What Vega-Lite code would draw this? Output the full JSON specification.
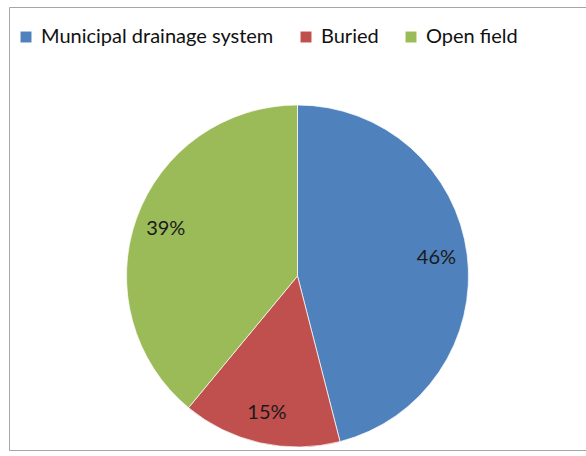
{
  "$schema": "https://vega.github.io/schema/vega-lite/v6.json",
  "width": 577,
  "height": 443,
  "autosize": {"type": "none"},
  "padding": {"left": 9, "top": 7, "right": 0, "bottom": 6},
  "background": "white",
  "view": {"stroke": "#a6a6a6", "strokeWidth": 1, "fill": "white"},
  "config": {"font": "Lato"},
  "data": {
    "values": [
      {"method": "Municipal drainage system", "share": 46, "label": "46%", "rank": 1},
      {"method": "Buried", "share": 15, "label": "15%", "rank": 2},
      {"method": "Open field", "share": 39, "label": "39%", "rank": 3}
    ]
  },
  "encoding": {
    "theta": {"field": "share", "type": "quantitative", "stack": true},
    "order": {"field": "rank", "type": "ordinal"}
  },
  "layer": [
    {
      "mark": {
        "type": "arc",
        "outerRadius": 171,
        "y": {"expr": "height / 2 + 47.5"},
        "stroke": "#ffffff",
        "strokeWidth": 0.7
      },
      "encoding": {
        "color": {
          "field": "method",
          "type": "nominal",
          "scale": {
            "domain": ["Municipal drainage system", "Buried", "Open field"],
            "range": ["#4f81bd", "#c0504d", "#9bbb59"]
          },
          "legend": {
            "title": null,
            "orient": "none",
            "direction": "horizontal",
            "legendX": 7,
            "legendY": 20,
            "symbolType": "square",
            "symbolSize": 120,
            "symbolStrokeWidth": 0,
            "labelFontSize": 20,
            "labelFont": "Lato",
            "labelColor": "#111111",
            "labelLimit": 400,
            "labelOffset": 5,
            "columnPadding": 22
          }
        }
      }
    },
    {
      "mark": {
        "type": "text",
        "radius": 140,
        "y": {"expr": "height / 2 + 47.5"},
        "fontSize": 20,
        "font": "Lato"
      },
      "encoding": {
        "text": {"field": "label"},
        "color": {"value": "#1a1a1a"}
      }
    }
  ]
}
